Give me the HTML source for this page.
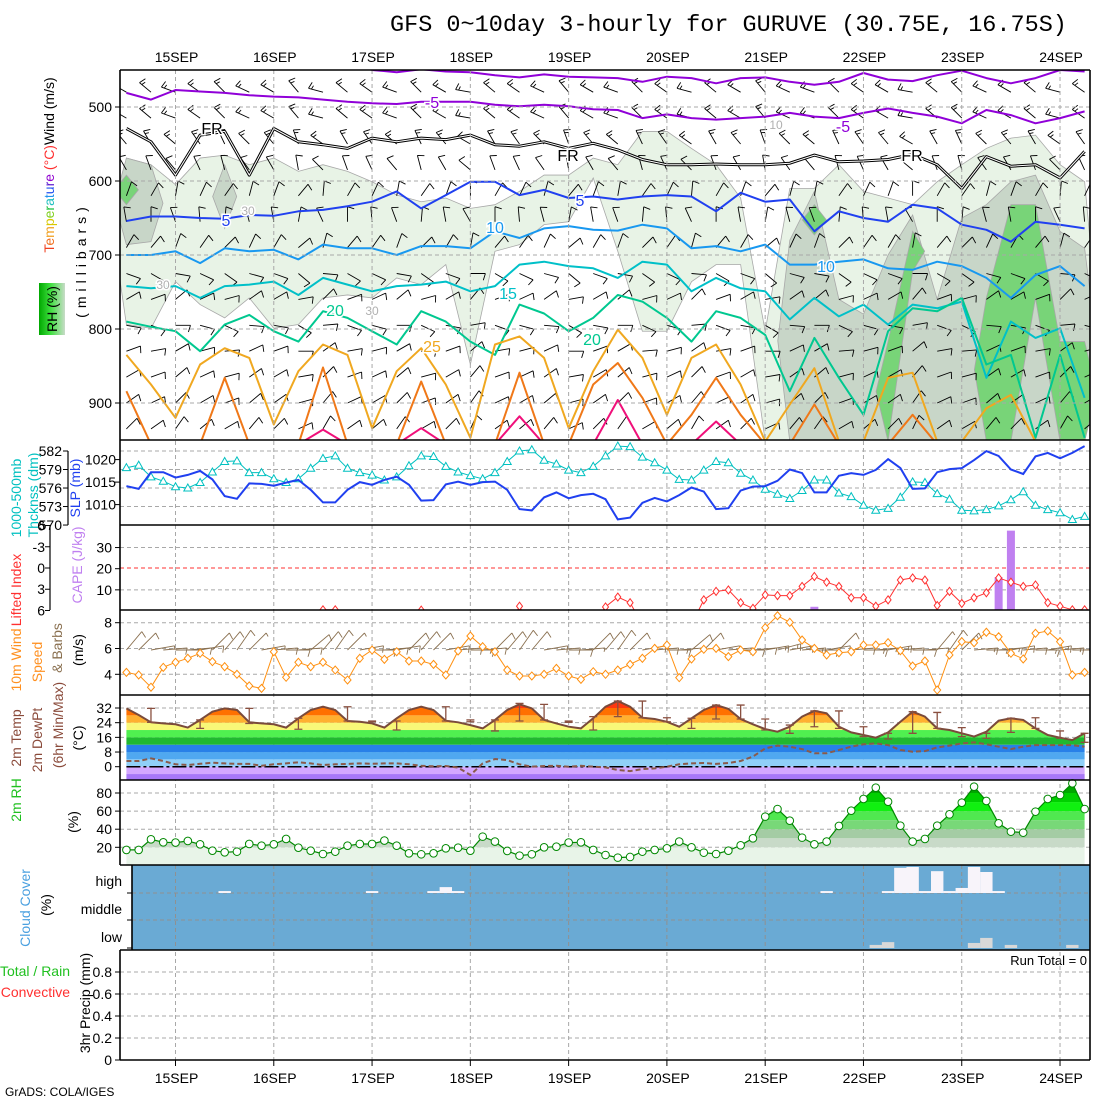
<!DOCTYPE html>
<html><head><meta charset="utf-8"><style>
html,body{margin:0;padding:0;background:#fff;}
svg{display:block;font-family:"Liberation Sans",sans-serif;}
</style></head><body>
<svg id="chart" width="1100" height="1100" viewBox="0 0 1100 1100" xmlns="http://www.w3.org/2000/svg">
<defs>
<clipPath id="c1"><rect x="120" y="70" width="970" height="370"/></clipPath>
<clipPath id="c2"><rect x="120" y="440" width="970" height="85"/></clipPath>
<clipPath id="c3"><rect x="120" y="525" width="970" height="85"/></clipPath>
<clipPath id="c4"><rect x="120" y="610" width="970" height="85"/></clipPath>
<linearGradient id="rhg" x1="0" y1="0" x2="1" y2="0"><stop offset="0" stop-color="#00a800"/><stop offset="0.45" stop-color="#40e040"/><stop offset="1" stop-color="#c8dcc8"/></linearGradient>
</defs>
<rect x="0" y="0" width="1100" height="1100" fill="#fff"/>
<text x="390" y="31" font-family="Liberation Mono, monospace" font-size="23.5">GFS 0~10day 3-hourly for GURUVE (30.75E, 16.75S)</text>
<text x="5" y="1096" font-size="12">GrADS: COLA/IGES</text>

<g font-size="14">
<rect x="39" y="283" width="26" height="52" fill="url(#rhg)"/>
<text transform="translate(57,309) rotate(-90)" text-anchor="middle">RH (%)</text>
<text transform="translate(54,165) rotate(-90)" text-anchor="middle"><tspan fill="#f04020">T</tspan><tspan fill="#f07020">e</tspan><tspan fill="#f0a020">m</tspan><tspan fill="#d8c800">p</tspan><tspan fill="#80d020">e</tspan><tspan fill="#20c040">r</tspan><tspan fill="#20c0c0">a</tspan><tspan fill="#2090f0">t</tspan><tspan fill="#2050f0">u</tspan><tspan fill="#6020d0">r</tspan><tspan fill="#9000d0">e</tspan> <tspan fill="#ff3030">(°C)</tspan><tspan fill="#000">Wind (m/s)</tspan></text>
<text transform="translate(86,260) rotate(-90)" text-anchor="middle" letter-spacing="5">(millibars)</text>
</g>
<g font-size="14">
<text transform="translate(21,498) rotate(-90)" text-anchor="middle" fill="#00c0c0">1000-500mb</text>
<text transform="translate(38,495) rotate(-90)" text-anchor="middle" fill="#00c0c0">Thcknss (dm)</text>
<text transform="translate(80,488) rotate(-90)" text-anchor="middle" fill="#2040f0">SLP (mb)</text>
<text transform="translate(21,590) rotate(-90)" text-anchor="middle" fill="#ff3030">Lifted Index</text>
<text transform="translate(82,565) rotate(-90)" text-anchor="middle" fill="#c080f0">CAPE (J/kg)</text>
<text transform="translate(21,660) rotate(-90)" text-anchor="middle" fill="#ff9020">10m Wind</text>
<text transform="translate(42,662) rotate(-90)" text-anchor="middle" fill="#ff9020">Speed</text>
<text transform="translate(62,648) rotate(-90)" text-anchor="middle" fill="#8a7050">&amp; Barbs</text>
<text transform="translate(83,650) rotate(-90)" text-anchor="middle">(m/s)</text>
<text transform="translate(21,738) rotate(-90)" text-anchor="middle" fill="#8a4a3a">2m Temp</text>
<text transform="translate(42,740) rotate(-90)" text-anchor="middle" fill="#8a4a3a">2m DewPt</text>
<text transform="translate(63,725) rotate(-90)" text-anchor="middle" fill="#8a4a3a">(6hr Min/Max)</text>
<text transform="translate(83,738) rotate(-90)" text-anchor="middle">(°C)</text>
<text transform="translate(21,800) rotate(-90)" text-anchor="middle" fill="#20c020">2m RH</text>
<text transform="translate(78,822) rotate(-90)" text-anchor="middle">(%)</text>
<text transform="translate(30,908) rotate(-90)" text-anchor="middle" fill="#4aa0e0">Cloud Cover</text>
<text transform="translate(51,905) rotate(-90)" text-anchor="middle">(%)</text>
<text x="70" y="976" text-anchor="end" fill="#20c020">Total / Rain</text>
<text x="70" y="997" text-anchor="end" fill="#ff3030">Convective</text>
<text transform="translate(90,1003) rotate(-90)" text-anchor="middle">3hr Precip (mm)</text>
<text x="1087" y="965" text-anchor="end" font-size="13">Run Total = 0</text>
</g>
<g id="plot"></g>
</svg>
<script>
// ---------- data ----------
const days = ["15SEP","16SEP","17SEP","18SEP","19SEP","20SEP","21SEP","22SEP","23SEP","24SEP"];
const thk = [579.3,579.7,577.8,577.1,576.2,576.0,576.9,578.6,580.3,580.4,578.5,578.5,577.5,576.9,577.5,579.2,580.8,581.2,579.2,578.5,578.1,577.3,577.8,579.6,581.2,581.1,579.5,578.6,578.0,577.5,578.5,580.3,582.0,582.2,580.5,579.9,578.9,578.5,579.5,581.2,582.8,582.7,581.0,580.1,578.9,577.4,577.3,578.9,580.3,580.1,578.4,577.3,575.8,575.0,574.3,575.6,577.3,577.3,575.2,574.6,573.2,572.4,572.7,574.5,577.0,576.9,575.1,574.2,572.4,572.3,572.5,573.1,574.1,575.4,573.2,572.5,572.0,570.9,571.4];
const slp = [1014.1,1013.5,1017.2,1017.2,1016.0,1016.6,1017.5,1015.6,1011.9,1011.3,1014.7,1014.6,1014.2,1014.9,1015.5,1013.3,1010.5,1010.5,1013.3,1015.0,1014.4,1015.5,1016.2,1014.4,1010.9,1011.0,1014.5,1015.1,1014.4,1015.0,1015.1,1013.3,1009.0,1008.7,1011.6,1012.7,1011.4,1012.1,1012.4,1011.2,1006.7,1007.1,1010.4,1011.5,1010.7,1012.1,1013.8,1012.9,1009.0,1009.2,1013.1,1014.0,1014.1,1015.3,1017.8,1017.0,1012.7,1012.7,1016.4,1017.0,1016.6,1017.7,1020.1,1018.1,1013.5,1013.6,1017.2,1017.9,1018.1,1019.9,1021.9,1020.8,1017.8,1016.8,1020.7,1021.5,1020.3,1021.5,1023.0];
const liftedIndex = [9,9,9,9,9,9,9,9,9,9,9,9,9,9,9,9,5.9,5.9,9,9,9,9,9,9,5.95,9,9,9,9,9,9,9,5.4,9,9,9,9,9,8,5.5,4.1,4.9,8,8,8,8,8,4.5,3.3,3.1,4.9,5.7,3.8,3.9,3.9,2.6,1.2,2.0,2.6,4.2,4.2,5.4,4.5,1.7,1.4,1.7,5.3,3.3,5.0,4.2,3.5,1.4,2.0,2.6,2.4,4.9,5.4,5.9,5.9];
const cape = [0,0,0,0,0,0,0,0,0,0,0,0,0,0,0,0,0,0,0,0,0,0,0,0,0,0,0,0,0,0,0,0,0,0,0,0,0,0,0,0,0,0,0,0,0,0,0,0,0,0,0,0,0,0,0,0,2,0,0,0,0,0,0,0,0,0,0,0,0,0,0,16,38,0,0,0,0,0,0];
const wspd = [4.15,3.95,3.0,4.54,4.93,5.24,5.63,4.98,4.59,4.0,3.1,2.91,5.75,3.77,4.93,4.59,4.93,4.33,3.56,5.24,5.88,5.16,5.75,5.03,5.03,4.77,3.95,5.81,6.97,6.14,5.75,4.33,3.87,3.87,4.0,4.46,3.87,3.61,4.2,4.0,4.33,4.77,5.24,6.01,6.27,3.74,5.19,5.94,6.01,5.37,5.88,5.75,7.61,8.54,8.03,6.66,6.01,5.5,5.67,5.75,6.27,6.27,6.45,5.83,4.64,5.03,2.78,5.5,6.53,6.45,7.26,6.91,5.63,5.19,7.18,7.36,6.53,3.95,4.15];
const wdir = [40,45,80,85,90,85,80,45,40,35,45,80,85,90,85,50,40,35,45,80,90,85,80,45,40,45,80,85,90,85,45,40,35,40,80,85,90,85,45,40,35,45,80,85,90,85,50,45,80,85,90,85,80,75,80,85,90,80,45,85,90,85,80,85,90,85,40,35,45,85,90,85,80,85,90,80,85,90,85];
const t2m = [31.8,28.2,24.2,23.6,23.1,21.3,25.5,30.0,31.8,30.9,24.2,23.6,23.1,21.3,26.4,30.9,32.7,30.9,24.9,24.5,23.6,21.3,26.4,30.9,32.7,30.9,25.1,24.2,22.7,20.9,25.5,30.9,34.0,31.8,25.5,23.6,21.8,20.9,26.4,32.7,35.8,32.7,26.7,26.0,24.5,21.8,26.4,30.9,33.6,31.5,26.0,23.1,20.5,19.1,21.8,27.3,30.5,29.1,21.8,18.7,17.3,15.8,18.7,24.5,30.0,27.3,20.9,20.0,18.2,16.4,19.1,25.1,26.4,25.5,20.9,17.3,15.8,14.5,18.2];
const td2m = [3.1,3.1,4.5,3.1,1.3,0.9,1.6,2.2,1.8,1.5,1.5,0.5,1.3,1.8,2.4,1.8,0.9,1.3,1.5,1.8,1.6,1.8,1.8,1.3,0.5,0.2,0.4,-0.5,-4.5,1.8,4.2,3.6,1.3,0,0.4,0.5,0,0.5,0,-0.4,-1.8,-2.4,-1.3,-0.9,0,1.3,1.8,2.0,1.5,2.0,3.1,5.5,10.0,11.5,10.9,9.6,7.3,7.3,9.1,10.9,12.2,12.7,11.8,9.1,8.2,8.5,10.5,11.5,12.7,13.3,12.2,10.9,9.6,10.9,11.8,11.8,11.8,11.8,10.9];
const tmax6 = [null,31.8,null,25.5,null,31.8,null,26.4,null,32.7,24.9,24.9,null,32.7,25.5,25.5,34.5,34.0,24.9,27.3,35.8,35.8,26.7,26.4,33.6,33.6,26.0,22.7,30.4,30.4,21.8,18.2,30.0,29.6,21.3,18.2,26.4,26.7,19.5,18.2];
const tmin6 = [null,24.2,null,20.9,null,23.6,null,20.4,null,24.9,24.5,20.0,null,24.9,24.5,19.5,24.9,25.5,24.2,20.0,27.3,26.7,24.5,20.9,26.0,26.0,20.0,18.2,21.8,20.9,16.4,15.1,18.2,20.9,16.4,15.5,18.7,20.9,15.5,13.3];
const rh2m = [17.1,17.1,28.8,25.5,25.2,27.0,23.3,16.3,14.5,15.2,23.7,21.8,23.3,29.2,19.6,16.3,12.6,15.2,21.8,23.7,23.7,27.4,21.8,13.4,12.3,13.4,18.9,19.6,16.3,31.8,26.3,16.0,10.8,12.3,20.0,20.7,25.2,25.5,17.1,11.5,8.6,9.3,15.2,17.1,18.9,26.3,20.0,14.1,12.6,16.3,22.2,29.9,53.9,62.3,49.4,30.7,23.3,26.3,43.6,60.5,73.4,85.9,70.4,43.9,26.3,29.2,43.9,56.4,69.3,87.0,71.2,46.5,37.3,36.2,59.4,73.4,77.8,90.7,62.3];
const cloudHigh = [0,0,0,0,0,0,0,0,7,0,0,0,0,0,0,0,0,0,0,0,7,0,0,0,0,7,21,7,0,0,0,0,0,0,0,0,0,0,0,0,0,0,0,0,0,0,0,0,0,0,0,0,0,0,0,0,0,7,0,0,0,0,7,90,93,7,78,7,18,93,75,7,0,0,0,0,0,0,0];
const cloudLow = [0,0,0,0,0,0,0,0,0,0,0,0,0,0,0,0,0,0,0,0,0,0,0,0,0,0,0,0,0,0,0,0,0,0,0,0,0,0,0,0,0,0,0,0,0,0,0,0,0,0,0,0,0,0,0,0,0,0,0,0,0,11,21,0,0,0,0,0,0,18,36,0,11,0,0,0,0,11,0];
// upper-air isotherms: pressure (mb) at 6-hourly steps
const isoM10 = [440,440,440,440,440,440,440,440,440,440,450,453,449,452,453,457,460,456,459,460,461,466,459,461,468,461,460,466,470,466,454,463,465,457,451,461,468,461,450,452];
const isoM5 = [481,490,477,479,481,484,486,487,490,493,495,496,493,493,493,497,499,497,499,503,504,515,510,515,517,515,513,508,513,515,508,502,508,513,522,504,511,522,515,506];
const isoFR = [529,547,592,538,533,592,529,547,551,556,542,547,542,544,538,551,553,547,556,549,558,571,578,578,577,578,578,576,565,574,573,571,564,578,610,567,580,578,596,560];
const iso5 = [654,648,648,650,651,646,647,641,639,634,628,614,637,619,601,601,619,612,623,621,625,621,619,621,641,616,628,625,668,641,650,655,632,637,659,666,682,655,659,664];
const iso10 = [700,700,695,711,691,695,693,706,686,691,691,700,688,688,691,668,677,664,661,666,667,659,664,691,688,695,686,713,713,709,706,718,720,709,715,731,758,727,715,742];
const iso15 = [742,745,742,758,742,740,736,754,731,740,749,742,740,736,749,742,713,709,715,718,731,709,713,749,731,745,749,787,758,783,767,794,767,772,763,866,790,812,799,893];
const iso20 = [790,797,803,830,794,781,803,817,776,785,803,821,776,790,817,835,767,779,803,785,754,763,785,817,776,785,808,884,812,866,916,803,772,776,758,848,835,947,835,947];
const iso25 = [835,875,920,848,826,839,929,857,821,835,934,857,826,875,947,821,810,839,934,857,801,839,916,839,821,875,952,902,853,952,952,866,859,952,952,907,889,952,952,952];
const iso30 = [884,956,956,956,866,956,956,956,852,956,956,956,871,956,956,956,859,956,956,875,846,893,956,916,866,916,956,956,902,956,956,956,916,956,956,956,956,956,956,956];
const iso35 = [956,956,956,956,956,956,956,956,936,956,956,956,934,956,956,956,918,956,956,956,896,956,956,956,925,956,956,956,956,956,956,956,956,956,956,956,956,956,956,956];
// upper-air RH shading bounds (mb) at 6-hourly steps
const rh30Top = [569,578,605,569,565,578,569,587,578,587,601,619,628,623,637,632,614,592,592,569,578,533,533,556,578,623,803,610,610,578,614,623,632,601,578,556,542,538,578,601];
const rh30Bot = [794,799,736,767,785,758,799,794,758,754,758,731,740,713,848,695,686,659,655,596,695,803,803,736,713,713,952,952,952,952,952,952,952,952,952,952,952,952,952,952];
const rh50Top = [569,578,null,null,578,null,null,null,null,null,null,null,null,null,null,null,null,null,null,null,null,null,null,null,null,null,null,680,614,760,780,700,646,760,650,632,601,592,668,691];
const rh50Bot = [686,682,null,null,664,null,null,null,null,null,null,null,null,null,null,null,null,null,null,null,null,null,null,null,null,null,null,952,952,952,952,952,952,952,952,952,952,952,952,952];
const rh70Top = [592,null,null,null,null,null,null,null,null,null,null,null,null,null,null,null,null,null,null,null,null,null,null,null,null,null,null,null,632,null,null,817,668,null,null,758,632,632,817,817];
const rh70Bot = [632,null,null,null,null,null,null,null,null,null,null,null,null,null,null,null,null,null,null,null,null,null,null,null,null,null,null,null,673,null,null,952,722,null,null,952,952,758,952,952];
// upper-air winds
const barbLevels = [480,515,550,585,620,655,690,725,760,795,830,865,900,935];
const levelDir = [300,300,320,330,20,350,30,110,60,100,70,60,55,45];
const levelSpd = [8,8,7,6,5,5,5,5,5,5,6,6,6,5];
const timeDirShift = [0,10,-10,5,15,-5,0,20,-15,10,5,-10,15,0,-20,10,5,-5,20,0,-10,15,5,-15,10,0,20,-5,-10,15,5,0,-20,10,15,-5,0,10,-15,5];

// ---------- helpers ----------
const NS = "http://www.w3.org/2000/svg";
const root = document.getElementById("plot");
function mk(tag, attrs, parent) {
  const e = document.createElementNS(NS, tag);
  for (const k in attrs) e.setAttribute(k, attrs[k]);
  (parent || root).appendChild(e);
  return e;
}
const X = i => 126.4 + 12.285 * i;
const dayX = k => 175.5 + 98.28 * k;
const yP = p => 70 + (p - 450) * 0.74;
const yThk = v => 451 + (582 - v) * 6.17;
const ySlp = v => 459.6 + (1020 - v) * 4.5;
const yCape = v => 611 - v * 2.115;
const yLI = v => 568 + v * 7.08;
const ySpd = v => 622.7 + (8 - v) * 12.9;
const yT = v => 766.7 - v * 1.834;
const yRH = v => 847.3 - (v - 20) * 0.905;
const yPr = v => 1060 - v * 110;
const pts = (arr, fy, fx) => arr.map((v, i) => (fx ? fx(i) : X(i)).toFixed(1) + "," + fy(v).toFixed(1)).join(" ");

// ---------- upper-air RH shading ----------
const g1 = mk("g", {"clip-path": "url(#c1)"});


function shade(tops, bots, fill, name) {
  let run = [];
  const flush = () => {
    if (!run.length) return;
    const a = run[0], b = run[run.length - 1];
    const top = [], bot = [];
    top.push((X(2 * a) - 12) + "," + yP((tops[a] + bots[a]) / 2));
    run.forEach(j => top.push(X(2 * j) + "," + yP(tops[j])));
    top.push((X(2 * b) + 12) + "," + yP((tops[b] + bots[b]) / 2));
    for (let k = run.length - 1; k >= 0; k--) bot.push(X(2 * run[k]) + "," + yP(bots[run[k]]));
    const p = mk("polygon", {points: top.concat(bot).join(" "), fill: fill, stroke: "#a8a8a8", "stroke-width": 0.8}, g1);
    
    
    run = [];
  };
  for (let j = 0; j < tops.length; j++) {
    if (tops[j] == null) flush(); else run.push(j);
  }
  flush();
}
shade(rh30Top, rh30Bot, "#e8f3e6", "rh-shade-30");
shade(rh50Top, rh50Bot, "#c8d6c8", "rh-shade-50");
shade(rh70Top, rh70Bot, "#78d478", "rh-shade-70");

// ---------- grid ----------
const grid = mk("g", {stroke: "#a8a8a8", "stroke-width": 1, "stroke-dasharray": "4,3", fill: "none"});


days.forEach((d, k) => {
  const l = mk("line", {x1: dayX(k), x2: dayX(k), y1: 70, y2: 1060}, grid);
  
  
});
const hLines = [];
[500, 600, 700, 800, 900].forEach(p => hLines.push(yP(p)));
[582, 579, 576, 573].forEach(v => hLines.push(yThk(v)));
[10, 30].forEach(v => hLines.push(yCape(v)));
[4, 6, 8].forEach(v => hLines.push(ySpd(v)));
[8, 16, 24, 32].forEach(v => hLines.push(yT(v)));
[20, 40, 60, 80].forEach(v => hLines.push(yRH(v)));
[0.2, 0.4, 0.6, 0.8].forEach(v => hLines.push(yPr(v)));
hLines.forEach(y => {
  const l = mk("line", {x1: 120, x2: 1090, y1: y, y2: y}, grid);
  
  
});

// ---------- barbs ----------
function barb(bx, by, dir, spd, L, color, parent, name) {
  const r = dir * Math.PI / 180;
  const ex = bx + L * Math.sin(r), ey = by - L * Math.cos(r);
  let d = "M" + bx.toFixed(1) + "," + by.toFixed(1) + "L" + ex.toFixed(1) + "," + ey.toFixed(1);
  const pr = r + Math.PI / 2 + 0.3;
  let n = Math.round(spd / 2.5);
  let pos = 0;
  while (n > 0) {
    const fl = n >= 2 ? 7 : 4;
    const sx = ex - pos * Math.sin(r), sy = ey + pos * Math.cos(r);
    d += "M" + sx.toFixed(1) + "," + sy.toFixed(1) + "l" + (fl * Math.sin(pr)).toFixed(1) + "," + (-fl * Math.cos(pr)).toFixed(1);
    n -= 2; pos += 3;
  }
  const p = mk("path", {d: d, stroke: color, "stroke-width": 0.9, fill: "none"}, parent);
  
  
}
const gb = mk("g", {}, g1);


barbLevels.forEach((p, k) => {
  timeDirShift.forEach((s, j) => {
    barb(X(2 * j), yP(p), levelDir[k] + s, levelSpd[k], 15, "#000", gb, "upper-wind-barb");
  });
});

// ---------- isotherms ----------
const X2 = j => X(2 * j);
function iso(arr, color, name, w) {
  const pl = mk("polyline", {points: pts(arr, yP, X2), fill: "none", stroke: color, "stroke-width": w || 2, "stroke-linejoin": "round"}, g1);
  
  
}
iso(isoM10, "#9000d8", "isotherm-minus10");
iso(isoM5, "#9000d8", "isotherm-minus5");
iso(isoFR, "#000", "freezing-level-outer", 3);
iso(isoFR, "#fff", "freezing-level-inner", 1);
iso(iso5, "#2040f0", "isotherm-5");
iso(iso10, "#1898f0", "isotherm-10");
iso(iso15, "#00c0c8", "isotherm-15");
iso(iso20, "#00c890", "isotherm-20");
iso(iso25, "#f0a820", "isotherm-25");
iso(iso30, "#f07818", "isotherm-30");
iso(iso35, "#f0107a", "isotherm-35");

// contour labels
[["-5",432,108,"#9000d8"],["-5",843,132,"#9000d8"],["FR",212,134,"#000"],["FR",568,161,"#000"],["FR",912,161,"#000"],["5",226,226,"#2040f0"],["5",580,206,"#2040f0"],["10",495,233,"#1898f0"],["10",826,272,"#1898f0"],["15",508,299,"#00c0c8"],["20",335,316,"#00c890"],["20",592,345,"#00c890"],["25",432,352,"#f0a820"],["30",248,215,"#b0b0b0"],["30",163,289,"#b0b0b0"],["30",372,315,"#b0b0b0"],["10",776,129,"#b0b0b0"]].forEach(a => {
  const t = mk("text", {x: a[1], y: a[2], fill: a[3], "font-size": a[3] === "#b0b0b0" ? 12 : 16, "text-anchor": "middle", stroke: "#fff", "stroke-width": 3, "paint-order": "stroke"});
  t.textContent = a[0];
  
  
});

// ---------- panel 2 thickness / slp ----------
const g2 = mk("g", {"clip-path": "url(#c2)"});


const thkLine = mk("polyline", {points: pts(thk, yThk), fill: "none", stroke: "#00c0c0", "stroke-width": 1}, g2);


thk.forEach((v, i) => {
  const x = X(i), y = yThk(v);
  const t = mk("polygon", {points: `${x},${y - 4} ${x - 4},${y + 3} ${x + 4},${y + 3}`, fill: "#fff", stroke: "#00c0c0", "stroke-width": 1}, g2);
  
  
});
const slpLine = mk("polyline", {points: pts(slp, ySlp), fill: "none", stroke: "#2040f0", "stroke-width": 2}, g2);



// ---------- panel 3 CAPE / LI ----------
const g3 = mk("g", {"clip-path": "url(#c3)"});


const liZero = mk("line", {x1: 120, x2: 1090, y1: yLI(0), y2: yLI(0), stroke: "#ff3030", "stroke-dasharray": "4,3"}, g3);


cape.forEach((v, i) => {
  if (v <= 0) return;
  const b = mk("rect", {x: X(i) - 4, y: yCape(v), width: 8, height: 610 - yCape(v), fill: "#c080f0"}, g3);
  
  
});
const liLine = mk("polyline", {points: pts(liftedIndex, yLI), fill: "none", stroke: "#ff3030", "stroke-width": 1}, g3);


liftedIndex.forEach((v, i) => {
  if (v > 6.2) return;
  const x = X(i), y = yLI(v);
  const d = mk("polygon", {points: `${x},${y - 4} ${x + 3},${y} ${x},${y + 4} ${x - 3},${y}`, fill: "#fff", stroke: "#ff3030"}, g3);
  
  
});

// ---------- panel 4 wind ----------
const g4 = mk("g", {"clip-path": "url(#c4)"});


wdir.forEach((d, i) => barb(X(i), 650, d, wspd[i], 24, "#8a7050", g4, "wind10m-barb"));
const spdLine = mk("polyline", {points: pts(wspd, ySpd), fill: "none", stroke: "#ff9010", "stroke-width": 1}, g4);


wspd.forEach((v, i) => {
  const x = X(i), y = ySpd(v);
  const d = mk("polygon", {points: `${x},${y - 4} ${x + 3.5},${y} ${x},${y + 4} ${x - 3.5},${y}`, fill: "#fff", stroke: "#ff9010"}, g4);
  
  
});

// ---------- panel 5 temperature ----------
const tBands = [[-12,-4,"#a878f8"],[-4,0,"#d4a8ff"],[0,4,"#90d0f8"],[4,8,"#50a8f0"],[8,12,"#2880e8"],[12,16,"#20b830"],[16,20,"#50f050"],[20,24,"#f8f878"],[24,28,"#ffb030"],[28,32,"#ff7000"],[32,45,"#ff3810"]];
const tClip = mk("clipPath", {id: "tclip"});
const tPoly = mk("polygon", {points: X(0) + ",780 " + pts(t2m, yT) + " " + X(t2m.length - 1) + ",780"}, tClip);


const g5 = mk("g", {"clip-path": "url(#tclip)"});


tBands.forEach(b => {
  const y1 = Math.max(695, yT(b[1])), y2 = Math.min(780, yT(b[0]));
  if (y2 <= y1) return;
  const r = mk("rect", {x: 120, y: y1, width: 970, height: y2 - y1, fill: b[2]}, g5);
  
  
});
const zeroL = mk("line", {x1: X(0), x2: 1090, y1: yT(0), y2: yT(0), stroke: "#000", "stroke-width": 1.5, "stroke-dasharray": "14,3,3,3"});


const tdL = mk("polyline", {points: pts(td2m, yT), fill: "none", stroke: "#8a5a4a", "stroke-width": 2, "stroke-dasharray": "5,3"});


const tL = mk("polyline", {points: pts(t2m, yT), fill: "none", stroke: "#7a4a3a", "stroke-width": 2});


tmax6.forEach((v, j) => {
  if (v == null) return;
  const x = X(2 * j), y1 = yT(v), y2 = yT(tmin6[j]);
  const p = mk("path", {d: `M${x},${y1}V${y2}M${x - 4},${y1}h8M${x - 4},${y2}h8`, stroke: "#8a5040", "stroke-width": 1.3, fill: "none"});
  
  
});

// ---------- panel 6 RH ----------
const rhBands = [[0,20,"#e8f4e8"],[20,30,"#c8dac8"],[30,40,"#a4cca4"],[40,50,"#78d878"],[50,60,"#50e850"],[60,70,"#10f010"],[70,80,"#00d000"],[80,101,"#00a800"]];
const rClip = mk("clipPath", {id: "rclip"});
const rPoly = mk("polygon", {points: X(0) + ",865 " + pts(rh2m, yRH) + " " + X(rh2m.length - 1) + ",865"}, rClip);


const g6 = mk("g", {"clip-path": "url(#rclip)"});


rhBands.forEach(b => {
  const y1 = Math.max(780, yRH(b[1])), y2 = Math.min(865, yRH(b[0]));
  const r = mk("rect", {x: 120, y: y1, width: 970, height: y2 - y1, fill: b[2]}, g6);
  
  
});
const rhL = mk("polyline", {points: pts(rh2m, yRH), fill: "none", stroke: "#008800", "stroke-width": 1.2});


rh2m.forEach((v, i) => {
  const c = mk("circle", {cx: X(i), cy: yRH(v), r: 3.8, fill: "#fff", stroke: "#008800", "stroke-width": 1});
  
  
});

// ---------- panel 7 clouds ----------
const cbg = mk("rect", {x: 132, y: 865, width: 958, height: 85, fill: "#6aaad4"});


[893, 920].forEach(y => {
  const l = mk("line", {x1: 132, x2: 1090, y1: y, y2: y, stroke: "#909090", "stroke-dasharray": "4,3"});
  
  
});
days.forEach((d, k) => {
  const l = mk("line", {x1: dayX(k), x2: dayX(k), y1: 865, y2: 950, stroke: "#909090", "stroke-dasharray": "4,3"});
  
  
});
cloudHigh.forEach((v, i) => {
  if (v <= 0) return;
  const h = v / 100 * 28;
  const r = mk("rect", {x: X(i) - 6.2, y: 893 - h, width: 12.4, height: h, fill: "#f8f4fa"});
  
  
});
cloudLow.forEach((v, i) => {
  if (v <= 0) return;
  const h = v / 100 * 28;
  const r = mk("rect", {x: X(i) - 6.2, y: 948 - h, width: 12.4, height: h, fill: "#d8d8d8"});
  
  
});

// ---------- frames & axes ----------
const fr = mk("g", {stroke: "#000", fill: "none"});


[70, 440, 525, 610, 695, 780, 865, 950, 1060].forEach(y => {
  const l = mk("line", {x1: 120, x2: 1090, y1: y, y2: y, "stroke-width": 1.6}, fr);
  
  
});
[[120, 70, 865], [120, 950, 1060], [132, 865, 950], [1090, 70, 1060]].forEach(a => {
  const l = mk("line", {x1: a[0], x2: a[0], y1: a[1], y2: a[2], "stroke-width": 1.6}, fr);
  
  
});
[[68, 451, 525], [50, 525, 610]].forEach(a => {
  const l = mk("line", {x1: a[0], x2: a[0], y1: a[1], y2: a[2], "stroke-width": 1.2}, fr);
  
  
});
function tick(x, y, txt, tx, color) {
  const l = mk("line", {x1: x - 5, x2: x, y1: y, y2: y, stroke: "#000"});
  
  
  const t = mk("text", {x: tx, y: y + 5, "text-anchor": "end", "font-size": 14, fill: color || "#000"});
  t.textContent = txt;
  
  
}
const pTicks = [500, 600, 700, 800, 900];
const thkTicks = [582, 579, 576, 573, 570];
const slpTicks = [1020, 1015, 1010];
const liTicks = [-6, -3, 0, 3, 6];
const capeTicks = [10, 20, 30];
const spdTicks = [4, 6, 8];
const tTicks = [0, 8, 16, 24, 32];
const rhTicks = [20, 40, 60, 80];
const prTicks = [0, 0.2, 0.4, 0.6, 0.8];
pTicks.forEach(v => tick(120, yP(v), v, 112));
thkTicks.forEach(v => tick(68, yThk(v), v, 62));
slpTicks.forEach(v => tick(120, ySlp(v), v, 116));
liTicks.forEach(v => tick(50, yLI(v), v === -6 ? "6" : v, 45));
capeTicks.forEach(v => tick(120, yCape(v), v, 112));
spdTicks.forEach(v => tick(120, ySpd(v), v, 112));
tTicks.forEach(v => tick(120, yT(v), v, 112));
rhTicks.forEach(v => tick(120, yRH(v), v, 112));
prTicks.forEach(v => tick(120, yPr(v), v === 0 ? "0" : v.toFixed(1), 112));
[["high", 886], ["middle", 914], ["low", 942]].forEach(a => {
  const t = mk("text", {x: 122, y: a[1], "text-anchor": "end", "font-size": 14});
  t.textContent = a[0];
  
  
});
[893, 920, 948].forEach(y => {
  const l = mk("line", {x1: 127, x2: 132, y1: y, y2: y, stroke: "#000"});
  
  
});
days.forEach((d, k) => {
  const t1 = mk("text", {x: dayX(k) + 1, y: 62, "text-anchor": "middle", "font-size": 14});
  t1.textContent = d;
  
  
  const t2 = mk("text", {x: dayX(k) + 1, y: 1083, "text-anchor": "middle", "font-size": 14});
  t2.textContent = d;
  
  
  const tk = mk("line", {x1: dayX(k), x2: dayX(k), y1: 1060, y2: 1066, stroke: "#000"});
  
  
});
</script>
</body></html>
